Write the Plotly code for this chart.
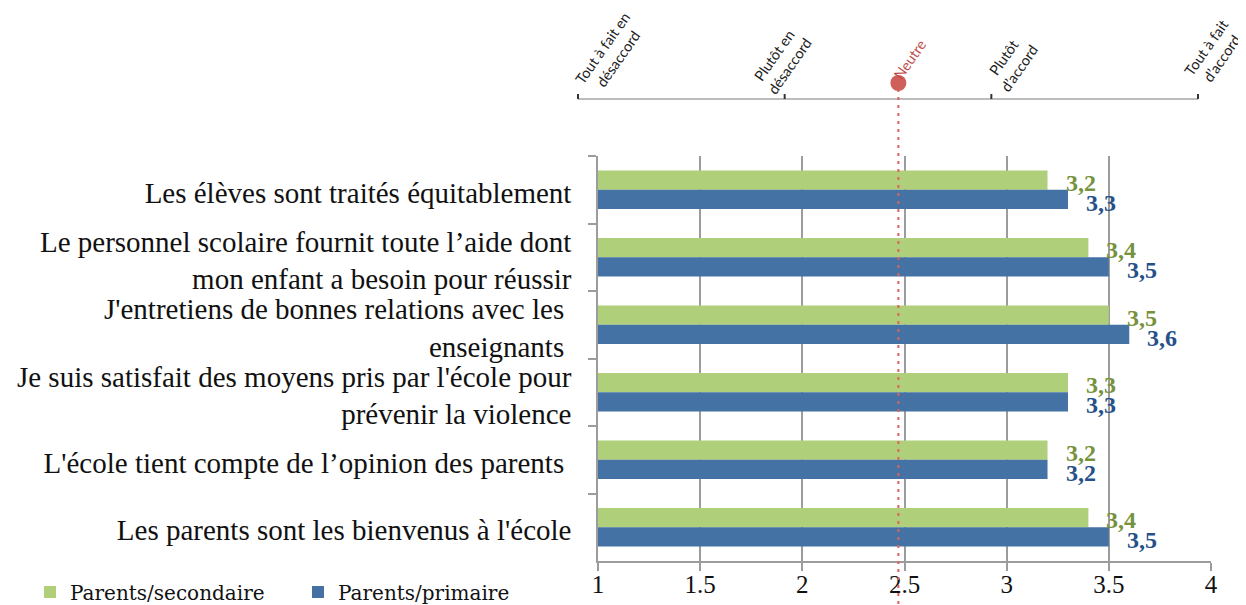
import plotly.graph_objects as go

# ---------------- data ----------------
categories = [
    "Les élèves sont traités équitablement",
    "Le personnel scolaire fournit toute l’aide dont<br>mon enfant a besoin pour réussir",
    "J'entretiens de bonnes relations avec les\u00a0<br>enseignants\u00a0",
    "Je suis satisfait des moyens pris par l'école pour<br>prévenir la violence",
    "L'école tient compte de l’opinion des parents\u00a0",
    "Les parents sont les bienvenus à l'école",
]
series_names = ["Parents/secondaire", "Parents/primaire"]
secondaire = [3.2, 3.4, 3.5, 3.3, 3.2, 3.4]
primaire = [3.3, 3.5, 3.6, 3.3, 3.2, 3.5]
x_ticks = [1, 1.5, 2, 2.5, 3, 3.5, 4]
scale_labels = ["Tout à fait en<br>désaccord", "Plutôt en<br>désaccord",
                "Plutôt<br>d’accord", "Tout à fait<br>d’accord"]
scale_values = [1, 2, 3, 4]
neutral_label = "Neutre"
neutral_value = 2.47

# ---------------- style ----------------
W, H = 1246, 605
OFF = 8  # page body margin: the figure is drawn 8px right/down of the window corner
ML, MR, MT, MB = 562, 43, 12, 52
plot_w = W - ML - MR
plot_h = H - MT - MB


def px_x(px):
    """window x pixel -> paper x"""
    return (px - OFF - ML) / plot_w


def px_y(py):
    """window y pixel -> paper y"""
    return (H - MB - (py - OFF)) / plot_h


# top scale geometry (window pixels)
SCALE_X0, SCALE_X1, SCALE_Y = 578, 1198, 99


def scale_px(v):
    return SCALE_X0 + (v - scale_values[0]) * (SCALE_X1 - SCALE_X0) / (scale_values[-1] - scale_values[0])


GREEN = "#afcf7a"
BLUE = "#4572a4"
GREEN_TXT = "#76923c"
BLUE_TXT = "#25508a"
GRID = "#9c9c9c"
SERIF = "Liberation Serif"
SANS = "Lato"

fig = go.Figure()
fig.add_trace(go.Bar(y=categories, x=secondaire, orientation="h", name=series_names[0],
                     marker=dict(color=GREEN, line=dict(width=0))))
fig.add_trace(go.Bar(y=categories, x=primaire, orientation="h", name=series_names[1],
                     marker=dict(color=BLUE, line=dict(width=0))))

annotations = []
for cat, v in zip(categories, secondaire):
    annotations.append(dict(x=v, y=cat, xref="x", yref="y", text=f"{v:.1f}".replace(".", ","),
                            showarrow=False, xanchor="left", yanchor="middle", xshift=16, yshift=7,
                            font=dict(family=SERIF, size=24, color=GREEN_TXT, weight="bold")))
for cat, v in zip(categories, primaire):
    annotations.append(dict(x=v, y=cat, xref="x", yref="y", text=f"{v:.1f}".replace(".", ","),
                            showarrow=False, xanchor="left", yanchor="middle", xshift=16, yshift=-13,
                            font=dict(family=SERIF, size=24, color=BLUE_TXT, weight="bold")))

shapes = [
    dict(type="line", xref="paper", yref="paper", x0=px_x(SCALE_X0), x1=px_x(SCALE_X1),
         y0=px_y(SCALE_Y), y1=px_y(SCALE_Y), line=dict(color="#a6a6a6", width=1.5)),
]

# top scale ticks and labels (rotated)
label_offsets = [(32, 54), (-3, 61), (20, 63), (16, 53)]
for lab, val, (dx, cy) in zip(scale_labels, scale_values, label_offsets):
    tx = scale_px(val)
    shapes.append(dict(type="line", xref="paper", yref="paper", x0=px_x(tx), x1=px_x(tx),
                       y0=px_y(SCALE_Y), y1=px_y(SCALE_Y - 5), line=dict(color="#333333", width=2)))
    annotations.append(dict(x=px_x(tx + dx), y=px_y(cy), xref="paper", yref="paper", text=lab,
                            showarrow=False, xanchor="center", yanchor="middle", textangle=-55,
                            align="center", font=dict(family=SANS, size=14.5, color="#222222")))
annotations.append(dict(x=neutral_value, y=px_y(59), xref="x", yref="paper", text=neutral_label,
                        showarrow=False, xanchor="center", yanchor="middle", xshift=11,
                        textangle=-55, font=dict(family=SANS, size=14.5, color="#c0504d")))

shapes += [
    dict(type="line", xref="x", yref="paper", x0=neutral_value, x1=neutral_value,
         y0=px_y(612), y1=px_y(90), line=dict(color="#e0605a", width=2, dash="3px,5px"),
         layer="above"),
    dict(type="circle", xref="x", yref="paper", xsizemode="pixel", ysizemode="pixel",
         xanchor=neutral_value, yanchor=px_y(83), x0=-8, x1=8, y0=-8, y1=8,
         fillcolor="#cf5f5a", line=dict(width=0), layer="above"),
]

fig.update_layout(
    width=W, height=H,
    margin=dict(l=ML, r=MR, t=MT, b=MB, autoexpand=False),
    paper_bgcolor="white", plot_bgcolor="white",
    barmode="group", bargap=0.43, bargroupgap=0,
    showlegend=True,
    legend=dict(orientation="h", x=px_x(30), y=px_y(592), xanchor="left", yanchor="middle",
                font=dict(family="DejaVu Serif", size=20, color="#111111"), itemwidth=30,
                entrywidth=223, entrywidthmode="pixels",
                traceorder="normal", bgcolor="rgba(0,0,0,0)"),
    xaxis=dict(domain=[px_x(598), px_x(1211)], range=[1, 4], tickvals=x_ticks, showgrid=True,
               gridcolor=GRID, gridwidth=1.5, showline=True, linecolor=GRID, linewidth=1.5,
               ticks="outside", ticklen=8, tickcolor=GRID, tickwidth=1.5, zeroline=False,
               automargin=False, ticklabelstandoff=-8,
               tickfont=dict(family=SERIF, size=25, color="#111111")),
    yaxis=dict(domain=[px_y(561), px_y(156)], autorange="reversed", showline=True, linecolor=GRID,
               linewidth=1.5, ticks="outside", ticklen=8, tickcolor=GRID, tickwidth=1.5,
               tickson="boundaries", showgrid=False, automargin=False,
               ticklabelstandoff=19, ticklabelshift=-3,
               tickfont=dict(family=SERIF, size=29, color="#111111")),
    annotations=annotations,
    shapes=shapes,
)

fig.write_html("out.html")
